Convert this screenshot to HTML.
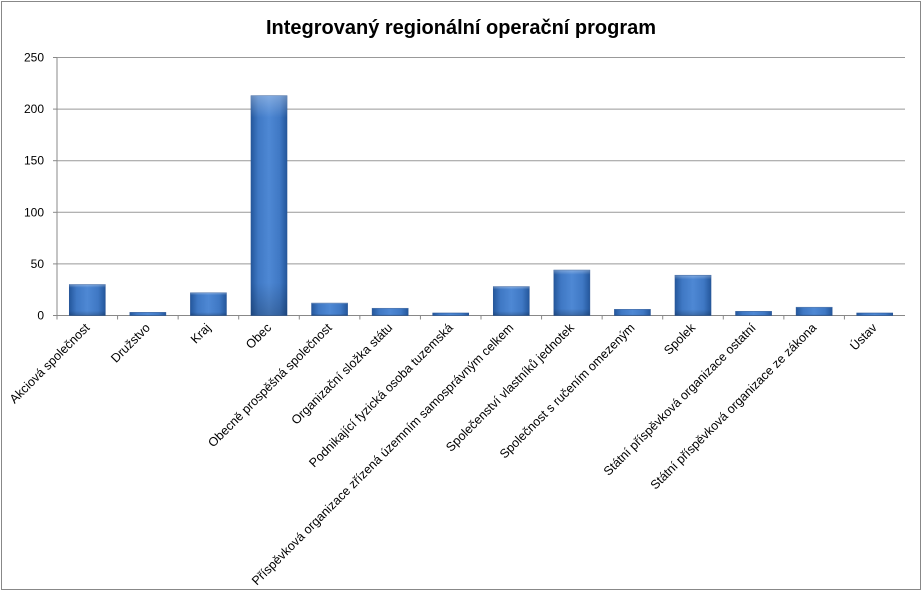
<!DOCTYPE html>
<html><head><meta charset="utf-8"><style>
body{margin:0;background:#fff;font-family:"Liberation Sans",Arial,sans-serif}
svg{display:block}
</style></head><body>
<svg width="923" height="592" id="c">
<defs>
<linearGradient id="g" x1="0" x2="1" y1="0" y2="0">
<stop offset="0" stop-color="#24579c"/><stop offset="0.2" stop-color="#3f78c4"/><stop offset="0.5" stop-color="#4e88d4"/><stop offset="0.8" stop-color="#3f78c4"/><stop offset="1" stop-color="#24579c"/>
</linearGradient>
<linearGradient id="gv" x1="0" x2="0" y1="0" y2="1">
<stop offset="0" stop-color="#fff" stop-opacity="0.3"/><stop offset="0.1" stop-color="#fff" stop-opacity="0"/><stop offset="0.85" stop-color="#000" stop-opacity="0"/><stop offset="1" stop-color="#000" stop-opacity="0.2"/>
</linearGradient>
</defs>
<rect x="1.5" y="1.5" width="919" height="588" fill="#fff" stroke="#888"/>
<text x="461" y="34" text-anchor="middle" font-size="20" font-weight="bold" fill="#000">Integrovaný regionální operační program</text>
<g id="grid"></g><g id="bars"></g><g id="labels"></g>
</svg>
<script>
const categories=["Akciová společnost","Družstvo","Kraj","Obec","Obecně prospěšná společnost","Organizační složka státu","Podnikající fyzická osoba tuzemská","Příspěvková organizace zřízená územním samosprávným celkem","Společenství vlastníků jednotek","Společnost s ručením omezeným","Spolek","Státní příspěvková organizace ostatní","Státní příspěvková organizace ze zákona","Ústav"];
const values=[30,3,22,213,12,7,1,28,44,6,39,4,8,1];
const yTicks=[0,50,100,150,200,250];
const NS="http://www.w3.org/2000/svg";
const x0=57,x1=905,y0=315.5,yTop=57.5,yMax=250;
const y=v=>y0-(v/yMax)*(y0-yTop);
const band=(x1-x0)/categories.length;
const xc=i=>x0+band*(i+0.5);
function mk(t,a,p){const e=document.createElementNS(NS,t);for(const k in a)e.setAttribute(k,a[k]);p.appendChild(e);return e;}
const grid=document.getElementById('grid'),bars=document.getElementById('bars'),labels=document.getElementById('labels');
yTicks.forEach(t=>{
 const l=mk('line',{x1:x0,x2:x1,y1:y(t),y2:y(t),stroke:t===0?'#888':'#999','stroke-width':1},grid);
 
 
 const tx=mk('text',{x:44,y:y(t)+4,'text-anchor':'end','font-size':12,fill:'#000'},grid);
 tx.textContent=t;
 
 
 const tk=mk('line',{x1:x0-4,x2:x0,y1:y(t),y2:y(t),stroke:'#888'},grid);
 
 
});
const ax=mk('line',{x1:x0,x2:x0,y1:yTop,y2:y0,stroke:'#888'},grid);


categories.forEach((c,i)=>{
 const tk=mk('line',{x1:x0+band*i,x2:x0+band*i,y1:y0,y2:y0+4,stroke:'#888'},grid);
 
 
 const w=36,h=Math.max(y0-y(values[i]),2.5);
 const g=mk('g',{},bars);
 
 
 mk('rect',{x:xc(i)-w/2,y:y0-h,width:w,height:h,fill:'url(#g)',stroke:'#2b5797','stroke-width':0.6},g);
 mk('rect',{x:xc(i)-w/2,y:y0-h,width:w,height:h,fill:'url(#gv)'},g);
 const ax0=xc(i)+3,ay0=y0+13;
 const t=mk('text',{x:ax0,y:ay0,'text-anchor':'end','font-size':12.5,fill:'#000',transform:`rotate(-45 ${ax0} ${ay0})`},labels);
 t.textContent=c;
 
 
});
</script>
</body></html>
